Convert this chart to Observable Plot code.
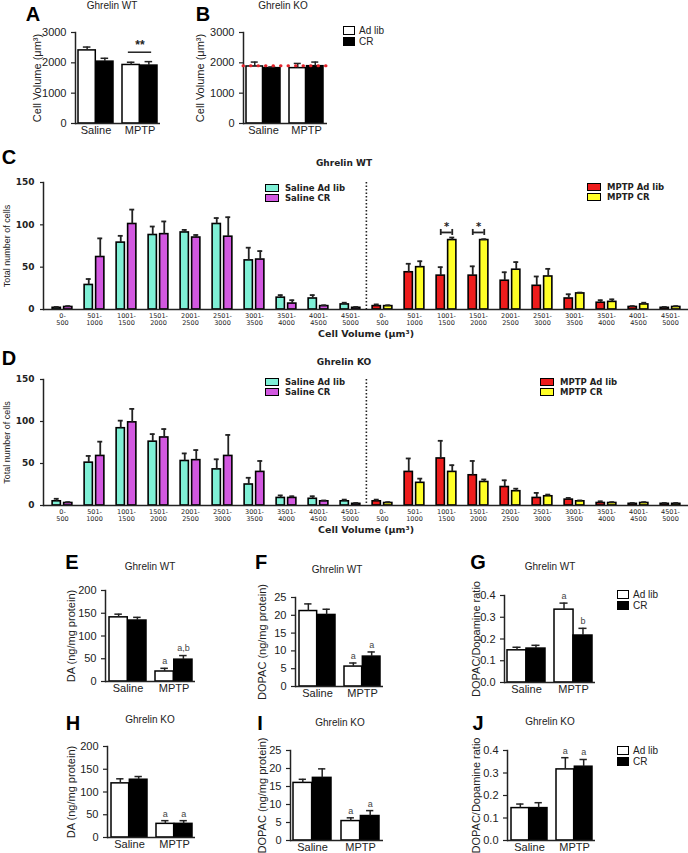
<!DOCTYPE html>
<html><head><meta charset="utf-8">
<script src="https://cdn.jsdelivr.net/npm/d3@7"></script>
<script src="https://cdn.jsdelivr.net/npm/@observablehq/plot@0.6"></script>
<style>
html,body{margin:0;padding:0;background:#fff;}
#fig{position:relative;width:688px;height:853px;overflow:hidden;font-family:"Liberation Sans",Arial,sans-serif;color:#111;}
#fig svg{position:absolute;}
.t{position:absolute;white-space:nowrap;line-height:1;}
.letter{font-family:"Liberation Sans",Arial,sans-serif;font-weight:bold;font-size:20px;color:#000;}
.ttl{font-size:10px;color:#222;}
.ttlw{font-family:"DejaVu Sans",sans-serif;font-weight:bold;font-size:9px;color:#222;}
.leg{font-size:10px;color:#222;}
.legw{font-family:"DejaVu Sans",sans-serif;font-weight:bold;font-size:8.5px;color:#222;}
.box{position:absolute;border:1.5px solid #000;box-sizing:border-box;}
</style>
</head><body><div id="fig"></div>
<script>
// ---------- shared categories ----------
const groups = ["Saline", "MPTP"];
const diets = ["Ad lib", "CR"];
const treatments = ["Saline", "MPTP"];
const bins = ["0-500","501-1000","1001-1500","1501-2000","2001-2500","2501-3000","3001-3500","3501-4000","4001-4500","4501-5000"];
const seriesNames = ["Saline Ad lib","Saline CR","MPTP Ad lib","MPTP CR"];
const seriesColors = ["#7ff0d6","#d258e0","#ee1c1c","#ffff26"];

// ---------- A / B : cell volume (order Saline-Ad lib, Saline-CR, MPTP-Ad lib, MPTP-CR) ----------
const volWT = [2410, 2040, 1930, 1910];
const volWTErr = [110, 110, 90, 130];
const volKO = [1880, 1825, 1825, 1890];
const volKOErr = [145, 40, 155, 135];
const volTicks = [0, 1000, 2000, 3000];
const volWTSig = [{group: "MPTP", y: 2350, text: "**"}];
const volKORef = [1900];

// ---------- C : Ghrelin WT distribution ----------
const cSalAdlib = [2,29,79,88,91,101,58,14,13,6];
const cSalAdlibErr = [1,7,8,10,3,7,15,3,4,2];
const cSalCR = [3,62,101,89,85,86,59,7,4,2];
const cSalCRErr = [1,22,17,15,3,23,10,4,1,1];
const cMptpAdlib = [4,44,40,40,34,28,13,8,3,2];
const cMptpAdlibErr = [2,10,10,11,10,11,5,3,1,1];
const cMptpCR = [4,50,82,82,47,39,19,9,6,3];
const cMptpCRErr = [1,7,3,1,9,9,1,3,2,1];
const cSigBins = ["1001-1500","1501-2000"];
const cSigY = [91, 91];

// ---------- D : Ghrelin KO distribution ----------
const dSalAdlib = [5,51,92,76,53,43,25,9,8,5];
const dSalAdlibErr = [3,8,9,9,9,12,8,3,3,2];
const dSalCR = [3,59,99,81,54,59,40,9,5,2];
const dSalCRErr = [1,17,16,10,12,25,13,2,1,1];
const dMptpAdlib = [5,40,56,36,22,9,7,3,2,2];
const dMptpAdlibErr = [2,16,21,17,8,6,2,2,1,1];
const dMptpCR = [3,27,40,28,17,11,5,3,3,2];
const dMptpCRErr = [1,5,8,3,3,2,1,1,1,1];
const histTicks = [0, 50, 100, 150];

// ---------- E-J : neurochemistry ----------
const daWT = [141, 134, 22, 48];
const daWTErr = [7, 7, 7, 9];
const daWTNotes = ["", "", "a", "a,b"];
const dopacWT = [21.2, 20.1, 5.6, 8.4];
const dopacWTErr = [2.0, 1.6, 1.0, 1.3];
const dopacWTNotes = ["", "", "a", "a"];
const ratioWT = [0.148, 0.156, 0.335, 0.216];
const ratioWTErr = [0.014, 0.015, 0.03, 0.033];
const ratioWTNotes = ["", "", "a", "b"];
const daKO = [119, 127, 30, 30];
const daKOErr = [10, 7, 7, 7];
const daKONotes = ["", "", "a", "a"];
const dopacKO = [16.0, 17.4, 5.4, 6.8];
const dopacKOErr = [1.0, 2.5, 0.9, 1.5];
const dopacKONotes = ["", "", "a", "a"];
const ratioKO = [0.144, 0.144, 0.316, 0.328];
const ratioKOErr = [0.018, 0.024, 0.052, 0.032];
const ratioKONotes = ["", "", "a", "a"];
const daTicks = [0, 50, 100, 150, 200];
const dopacTicks = [0, 5, 10, 15, 20, 25];
const ratioTicks = [0, 0.1, 0.2, 0.3, 0.4];

// ---------- helpers ----------
const fig = document.getElementById("fig");
function put(svg, left, top) { svg.style.left = left + "px"; svg.style.top = top + "px"; fig.appendChild(svg); }
function txt(s, x, y, cls, anchor = "middle") {
  const d = document.createElement("div");
  d.className = "t " + cls; d.textContent = s;
  d.style.left = x + "px"; d.style.top = y + "px";
  d.style.transform = anchor === "middle" ? "translate(-50%,-50%)" : "translate(0,-50%)";
  fig.appendChild(d);
}
function box(x, y, w, h, fill) {
  const d = document.createElement("div");
  d.className = "box"; d.style.left = x + "px"; d.style.top = y + "px";
  d.style.width = w + "px"; d.style.height = h + "px"; d.style.background = fill;
  fig.appendChild(d);
}

function smallBars(c) {
  const rows = [];
  groups.forEach((g, gi) => diets.forEach((d, di) => {
    const i = gi * 2 + di;
    rows.push({group: g, diet: d, mean: c.mean[i], err: c.err[i], top: c.mean[i] + c.err[i], note: c.notes ? c.notes[i] : ""});
  }));
  const fw = c.width - c.ml - c.mr;
  const pi = 0.2, po = 0.06;
  const step = fw / (2 - pi + 2 * po), bw = step * (1 - pi);
  const half = bw / 2, q = bw / 4, cap = 4;
  const adl = rows.filter(r => r.diet === "Ad lib"), cr = rows.filter(r => r.diet === "CR");
  const marks = [
    Plot.barY(adl, {x: "group", y: "mean", fill: "white", stroke: "black", strokeWidth: 1.5, insetLeft: 0, insetRight: half}),
    Plot.barY(cr, {x: "group", y: "mean", fill: "black", stroke: "black", strokeWidth: 1.5, insetLeft: half, insetRight: 0}),
    Plot.ruleX(adl, {x: "group", y1: "mean", y2: "top", dx: -q, strokeWidth: 1.5}),
    Plot.ruleX(cr, {x: "group", y1: "mean", y2: "top", dx: q, strokeWidth: 1.5}),
    Plot.tickY(adl, {x: "group", y: "top", insetLeft: q - cap, insetRight: half + q - cap, strokeWidth: 1.5}),
    Plot.tickY(cr, {x: "group", y: "top", insetLeft: half + q - cap, insetRight: q - cap, strokeWidth: 1.5}),
    Plot.text(adl.filter(r => r.note), {x: "group", y: "top", text: "note", dx: -q, dy: -7, fontSize: 9, fill: "#444"}),
    Plot.text(cr.filter(r => r.note), {x: "group", y: "top", text: "note", dx: q, dy: -7, fontSize: 9, fill: "#444"}),
    Plot.ruleY([c.yDomain[0]], {strokeWidth: 1.5}),
    Plot.frame({anchor: "left", strokeWidth: 1.5}),
    Plot.axisY({ticks: c.ticks, tickFormat: c.fmt, tickSize: 4, strokeWidth: 1.2, fontSize: c.tickFont || 11, label: c.label, labelAnchor: "center", labelOffset: c.lo, labelArrow: "none"}),
    Plot.axisX({tickSize: 0, tickPadding: 3, fontSize: 11, label: null})
  ];
  if (c.extra) marks.push(...c.extra(q, half));
  const svg = Plot.plot({
    width: c.width, height: c.height,
    marginLeft: c.ml, marginRight: c.mr, marginTop: c.mt, marginBottom: c.mb,
    x: {type: "band", domain: groups, paddingInner: pi, paddingOuter: po},
    y: {domain: c.yDomain},
    style: {fontFamily: "'Liberation Sans', Arial, sans-serif", fontSize: "11px", color: "#222", background: "transparent", overflow: "visible"},
    marks
  });
  put(svg, c.left, c.top);
}

function histo(c) {
  const keys = treatments.flatMap(t => bins.map(b => t + "|" + b));
  const rows = [];
  treatments.forEach((t, ti) => diets.forEach((d, di) => {
    const m = c.series[ti * 2 + di], e = c.errs[ti * 2 + di];
    bins.forEach((b, bi) => rows.push({key: t + "|" + b, series: t + " " + d, diet: d, mean: m[bi], top: m[bi] + e[bi]}));
  }));
  const ml = 43, mr = 0;
  const step = (688 - ml - mr) / keys.length, half = step / 2;
  const g = 1.5, w = 8.5, cap = 2.6, off = g + w / 2;
  const adl = rows.filter(r => r.diet === "Ad lib"), cr = rows.filter(r => r.diet === "CR");
  const marks = [
    Plot.barY(adl, {x: "key", y: "mean", fill: "series", stroke: "black", strokeWidth: 1.6, insetLeft: half - g - w, insetRight: half + g}),
    Plot.barY(cr, {x: "key", y: "mean", fill: "series", stroke: "black", strokeWidth: 1.6, insetLeft: half + g, insetRight: half - g - w}),
    Plot.ruleX(adl, {x: "key", y1: "mean", y2: "top", dx: -off, strokeWidth: 1.8}),
    Plot.ruleX(cr, {x: "key", y1: "mean", y2: "top", dx: off, strokeWidth: 1.8}),
    Plot.tickY(adl, {x: "key", y: "top", insetLeft: half - off - cap, insetRight: half + off - cap, strokeWidth: 1.8}),
    Plot.tickY(cr, {x: "key", y: "top", insetLeft: half + off - cap, insetRight: half - off - cap, strokeWidth: 1.8}),
    Plot.ruleX([keys[bins.length]], {dx: -half, strokeDasharray: "1.5,2", strokeWidth: 1.6}),
    Plot.ruleY([0], {strokeWidth: 1.5}),
    Plot.frame({anchor: "left", strokeWidth: 1.5}),
    Plot.axisY({ticks: histTicks, tickSize: 3, strokeWidth: 1.2, fontSize: 9, fontWeight: "bold", fontFamily: "'DejaVu Sans', sans-serif", label: "Total number of cells", labelAnchor: "center", labelOffset: 40, labelArrow: "none"}),
    Plot.axisX({tickSize: 0, tickPadding: 3, fontSize: 6.5, fontFamily: "'DejaVu Sans', sans-serif", tickFormat: k => k.split("|")[1].replace("-", "-\n"), label: "Cell Volume (μm³)", labelAnchor: "center", labelOffset: 27, fontWeight: "normal", lineHeight: 1.1})
  ];
  if (c.sig) {
    const sig = c.sig.bins.map((b, i) => ({key: "MPTP|" + b, y: c.sig.y[i]}));
    marks.push(
      Plot.tickY(sig, {x: "key", y: "y", insetLeft: half - off, insetRight: half - off, strokeWidth: 1.8}),
      Plot.ruleX(sig, {x: "key", y1: "y", y2: "y", dx: -off, insetTop: -3, insetBottom: -3, strokeWidth: 1.8}),
      Plot.ruleX(sig, {x: "key", y1: "y", y2: "y", dx: off, insetTop: -3, insetBottom: -3, strokeWidth: 1.8}),
      Plot.text(sig, {x: "key", y: "y", text: () => "*", dy: -6, fontSize: 10, fontWeight: "bold"})
    );
  }
  const svg = Plot.plot({
    width: 688, height: 180,
    marginLeft: ml, marginRight: mr, marginTop: c.mt, marginBottom: 41,
    x: {type: "band", domain: keys, padding: 0},
    y: {domain: [0, 150]},
    color: {domain: seriesNames, range: seriesColors},
    style: {fontFamily: "'DejaVu Sans', sans-serif", fontSize: "9px", color: "#222", background: "transparent", overflow: "visible"},
    marks
  });
  svg.querySelectorAll("text").forEach(t => { if (t.textContent === "Cell Volume (μm³)") { t.setAttribute("font-size", "9.5"); t.setAttribute("font-weight", "bold"); } });
  svg.querySelectorAll("text").forEach(t => { if (t.textContent === "Total number of cells") { t.setAttribute("font-size", "9"); t.setAttribute("font-weight", "normal"); t.setAttribute("font-family", "'Liberation Sans Narrow','Liberation Sans',sans-serif"); } });
  put(svg, 0, c.top);
}

const intFmt = d3.format("d"), oneDec = d3.format(".1f");

// ---------- A & B ----------
smallBars({left: 0, top: 0, width: 170, height: 140, ml: 75, mr: 10, mt: 32, mb: 17, yDomain: [0, 3000], ticks: volTicks, fmt: intFmt,
  mean: volWT, err: volWTErr, label: "Cell Volume (μm³)", lo: 42,
  extra: (q, half) => [
    Plot.tickY(volWTSig, {x: "group", y: "y", insetLeft: q - 3, insetRight: q - 3, strokeWidth: 1.5}),
    Plot.text(volWTSig, {x: "group", y: "y", text: "text", dy: -7, fontSize: 12, fontWeight: "bold"})
  ]});
smallBars({left: 170, top: 0, width: 165, height: 140, ml: 73, mr: 8, mt: 32, mb: 17, yDomain: [0, 3000], ticks: volTicks, fmt: intFmt,
  mean: volKO, err: volKOErr, label: "Cell Volume (μm³)", lo: 47,
  extra: () => [Plot.ruleY(volKORef, {stroke: "#e3242b", strokeWidth: 3, strokeDasharray: "0.5,7", strokeLinecap: "round"})]});

// ---------- C & D ----------
histo({top: 170, mt: 12, series: [cSalAdlib, cSalCR, cMptpAdlib, cMptpCR], errs: [cSalAdlibErr, cSalCRErr, cMptpAdlibErr, cMptpCRErr], sig: {bins: cSigBins, y: cSigY}});
histo({top: 366, mt: 13, series: [dSalAdlib, dSalCR, dMptpAdlib, dMptpCR], errs: [dSalAdlibErr, dSalCRErr, dMptpAdlibErr, dMptpCRErr]});

// ---------- E - J ----------
smallBars({left: 0, top: 575, width: 200, height: 125, ml: 105, mr: 5, mt: 15, mb: 19, yDomain: [0, 200], ticks: daTicks, fmt: intFmt,
  mean: daWT, err: daWTErr, notes: daWTNotes, label: "DA (ng/mg protein)", lo: 38});
smallBars({left: 200, top: 575, width: 190, height: 130, ml: 95, mr: 7, mt: 22, mb: 19, yDomain: [0, 25], ticks: dopacTicks, fmt: intFmt,
  mean: dopacWT, err: dopacWTErr, notes: dopacWTNotes, label: "DOPAC (ng/mg protein)", lo: 37});
smallBars({left: 400, top: 575, width: 200, height: 125, ml: 104, mr: 5, mt: 20, mb: 18, yDomain: [0, 0.4], ticks: ratioTicks, fmt: oneDec,
  mean: ratioWT, err: ratioWTErr, notes: ratioWTNotes, label: "DOPAC/Dopamine ratio", lo: 32});
smallBars({left: 0, top: 735, width: 200, height: 118, ml: 107, mr: 5, mt: 11, mb: 16, yDomain: [0, 200], ticks: daTicks, fmt: intFmt,
  mean: daKO, err: daKOErr, notes: daKONotes, label: "DA (ng/mg protein)", lo: 40});
smallBars({left: 200, top: 735, width: 190, height: 118, ml: 90, mr: 7, mt: 15, mb: 13, yDomain: [0, 25], ticks: dopacTicks, fmt: intFmt,
  mean: dopacKO, err: dopacKOErr, notes: dopacKONotes, label: "DOPAC (ng/mg protein)", lo: 32});
smallBars({left: 400, top: 735, width: 200, height: 118, ml: 107, mr: 5, mt: 15, mb: 13, yDomain: [0, 0.4], ticks: ratioTicks, fmt: oneDec,
  mean: ratioKO, err: ratioKOErr, notes: ratioKONotes, label: "DOPAC/Dopamine ratio", lo: 35});

// ---------- panel letters, titles, legends ----------
[["A",33,14],["B",203,14],["C",9,157],["D",9,358],["E",72,562],["F",261,562],["G",478,562],["H",73,723],["I",260,723],["J",478,723]]
  .forEach(([s,x,y]) => txt(s, x, y, "letter"));
txt("Ghrelin WT", 112, 6, "ttl"); txt("Ghrelin KO", 283, 6, "ttl");
txt("Ghrelin WT", 344, 163, "ttlw"); txt("Ghrelin KO", 344, 362, "ttlw");
txt("Ghrelin WT", 150, 567, "ttl"); txt("Ghrelin WT", 337, 570, "ttl"); txt("Ghrelin WT", 550, 567, "ttl");
txt("Ghrelin KO", 150, 720, "ttl"); txt("Ghrelin KO", 340, 723, "ttl"); txt("Ghrelin KO", 550, 722, "ttl");

function dietLegend(x, y) {
  box(x, y, 12, 9, "#fff"); txt(diets[0], x + 16, y + 4.5, "leg", "start");
  box(x, y + 11, 12, 9, "#000"); txt(diets[1], x + 16, y + 15.5, "leg", "start");
}
dietLegend(343, 26); dietLegend(617, 590); dietLegend(617, 746);

function histLegend(x, y, i0) {
  box(x, y, 14, 8, seriesColors[i0]); txt(seriesNames[i0], x + 20, y + 4, "legw", "start");
  box(x, y + 9.5, 14, 8, seriesColors[i0 + 1]); txt(seriesNames[i0 + 1], x + 20, y + 13.5, "legw", "start");
}
histLegend(265, 184, 0); histLegend(587, 183, 2);
histLegend(265, 378, 0); histLegend(540, 378, 2);
</script>
</body></html>
